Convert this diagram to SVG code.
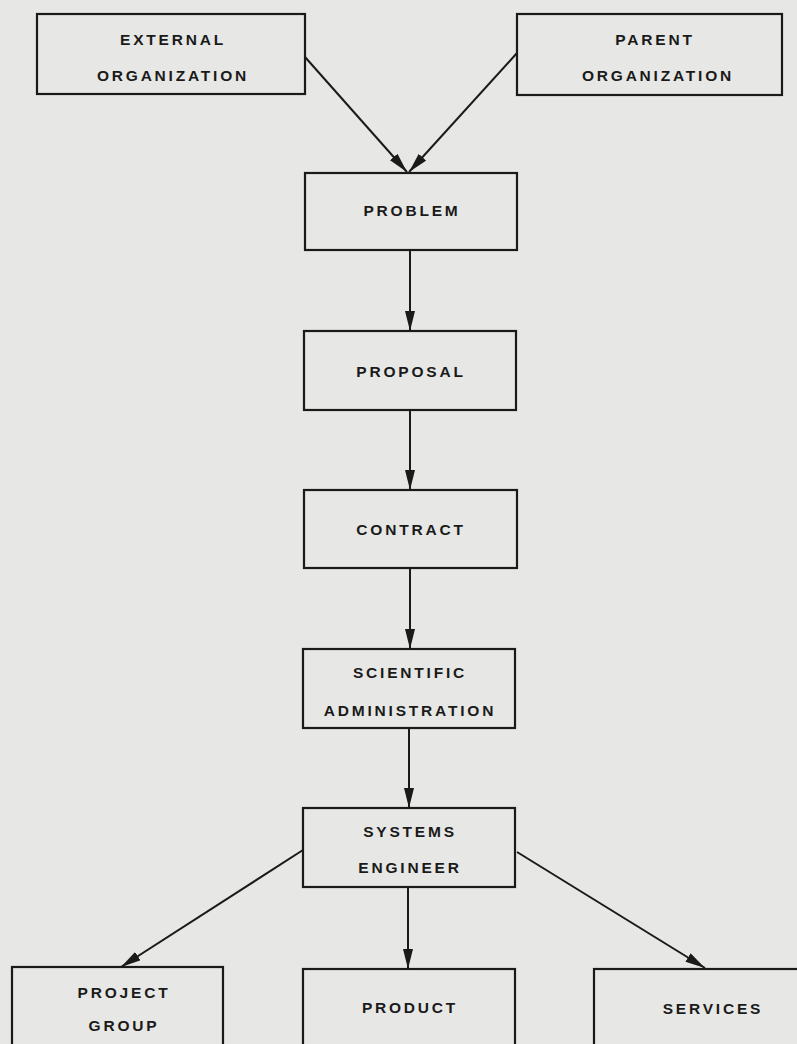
<svg xmlns="http://www.w3.org/2000/svg" width="797" height="1044" viewBox="0 0 797 1044">
<style>
.bx{fill:none;stroke:#1a1a1a;stroke-width:2.2}
.t{font-family:"Liberation Sans",Arial,sans-serif;font-size:15.5px;font-weight:bold;letter-spacing:2.8px;fill:#1a1a1a;text-anchor:middle}
.c{stroke:#1a1a1a;stroke-width:2;fill:none;marker-end:url(#ah)}
</style>
<defs>
<marker id="ah" viewBox="0 0 20 10" refX="20" refY="5" markerWidth="20" markerHeight="10" markerUnits="userSpaceOnUse" orient="auto">
<path d="M0,0 L20,5 L0,10 Z" fill="#1a1a1a"/>
</marker>
</defs>
<rect width="797" height="1044" fill="#e7e7e5"/>
<g id="external"><rect class="bx" x="37" y="14" width="268" height="80"/><text class="t" x="173" y="45">EXTERNAL</text><text class="t" x="173" y="81">ORGANIZATION</text></g>
<g id="parent"><rect class="bx" x="517" y="14" width="265" height="81"/><text class="t" x="655" y="45">PARENT</text><text class="t" x="658" y="81">ORGANIZATION</text></g>
<g id="problem"><rect class="bx" x="305" y="173" width="212" height="77"/><text class="t" x="412" y="216">PROBLEM</text></g>
<g id="proposal"><rect class="bx" x="304" y="331" width="212" height="79"/><text class="t" x="411" y="377">PROPOSAL</text></g>
<g id="contract"><rect class="bx" x="304" y="490" width="213" height="78"/><text class="t" x="411" y="535">CONTRACT</text></g>
<g id="scientific"><rect class="bx" x="303" y="649" width="212" height="79"/><text class="t" x="410" y="678">SCIENTIFIC</text><text class="t" x="410" y="716">ADMINISTRATION</text></g>
<g id="systems"><rect class="bx" x="303" y="808" width="212" height="79"/><text class="t" x="410" y="837">SYSTEMS</text><text class="t" x="410" y="873">ENGINEER</text></g>
<g id="project"><rect class="bx" x="12" y="967" width="211" height="90"/><text class="t" x="124" y="998">PROJECT</text><text class="t" x="124" y="1031">GROUP</text></g>
<g id="product"><rect class="bx" x="303" y="969" width="212" height="90"/><text class="t" x="410" y="1013">PRODUCT</text></g>
<g id="services"><rect class="bx" x="594" y="969" width="230" height="90"/><text class="t" x="713" y="1014">SERVICES</text></g>
<g id="connectors">
<line class="c" x1="305" y1="57" x2="407" y2="172"/>
<line class="c" x1="517" y1="53" x2="409" y2="172"/>
<line class="c" x1="410" y1="250" x2="410" y2="331"/>
<line class="c" x1="410" y1="410" x2="410" y2="490"/>
<line class="c" x1="410" y1="568" x2="410" y2="649"/>
<line class="c" x1="409" y1="728" x2="409" y2="808"/>
<line class="c" x1="303" y1="850" x2="121" y2="967"/>
<line class="c" x1="408" y1="887" x2="408" y2="969"/>
<line class="c" x1="517" y1="852" x2="705" y2="968"/>
</g>
</svg>
